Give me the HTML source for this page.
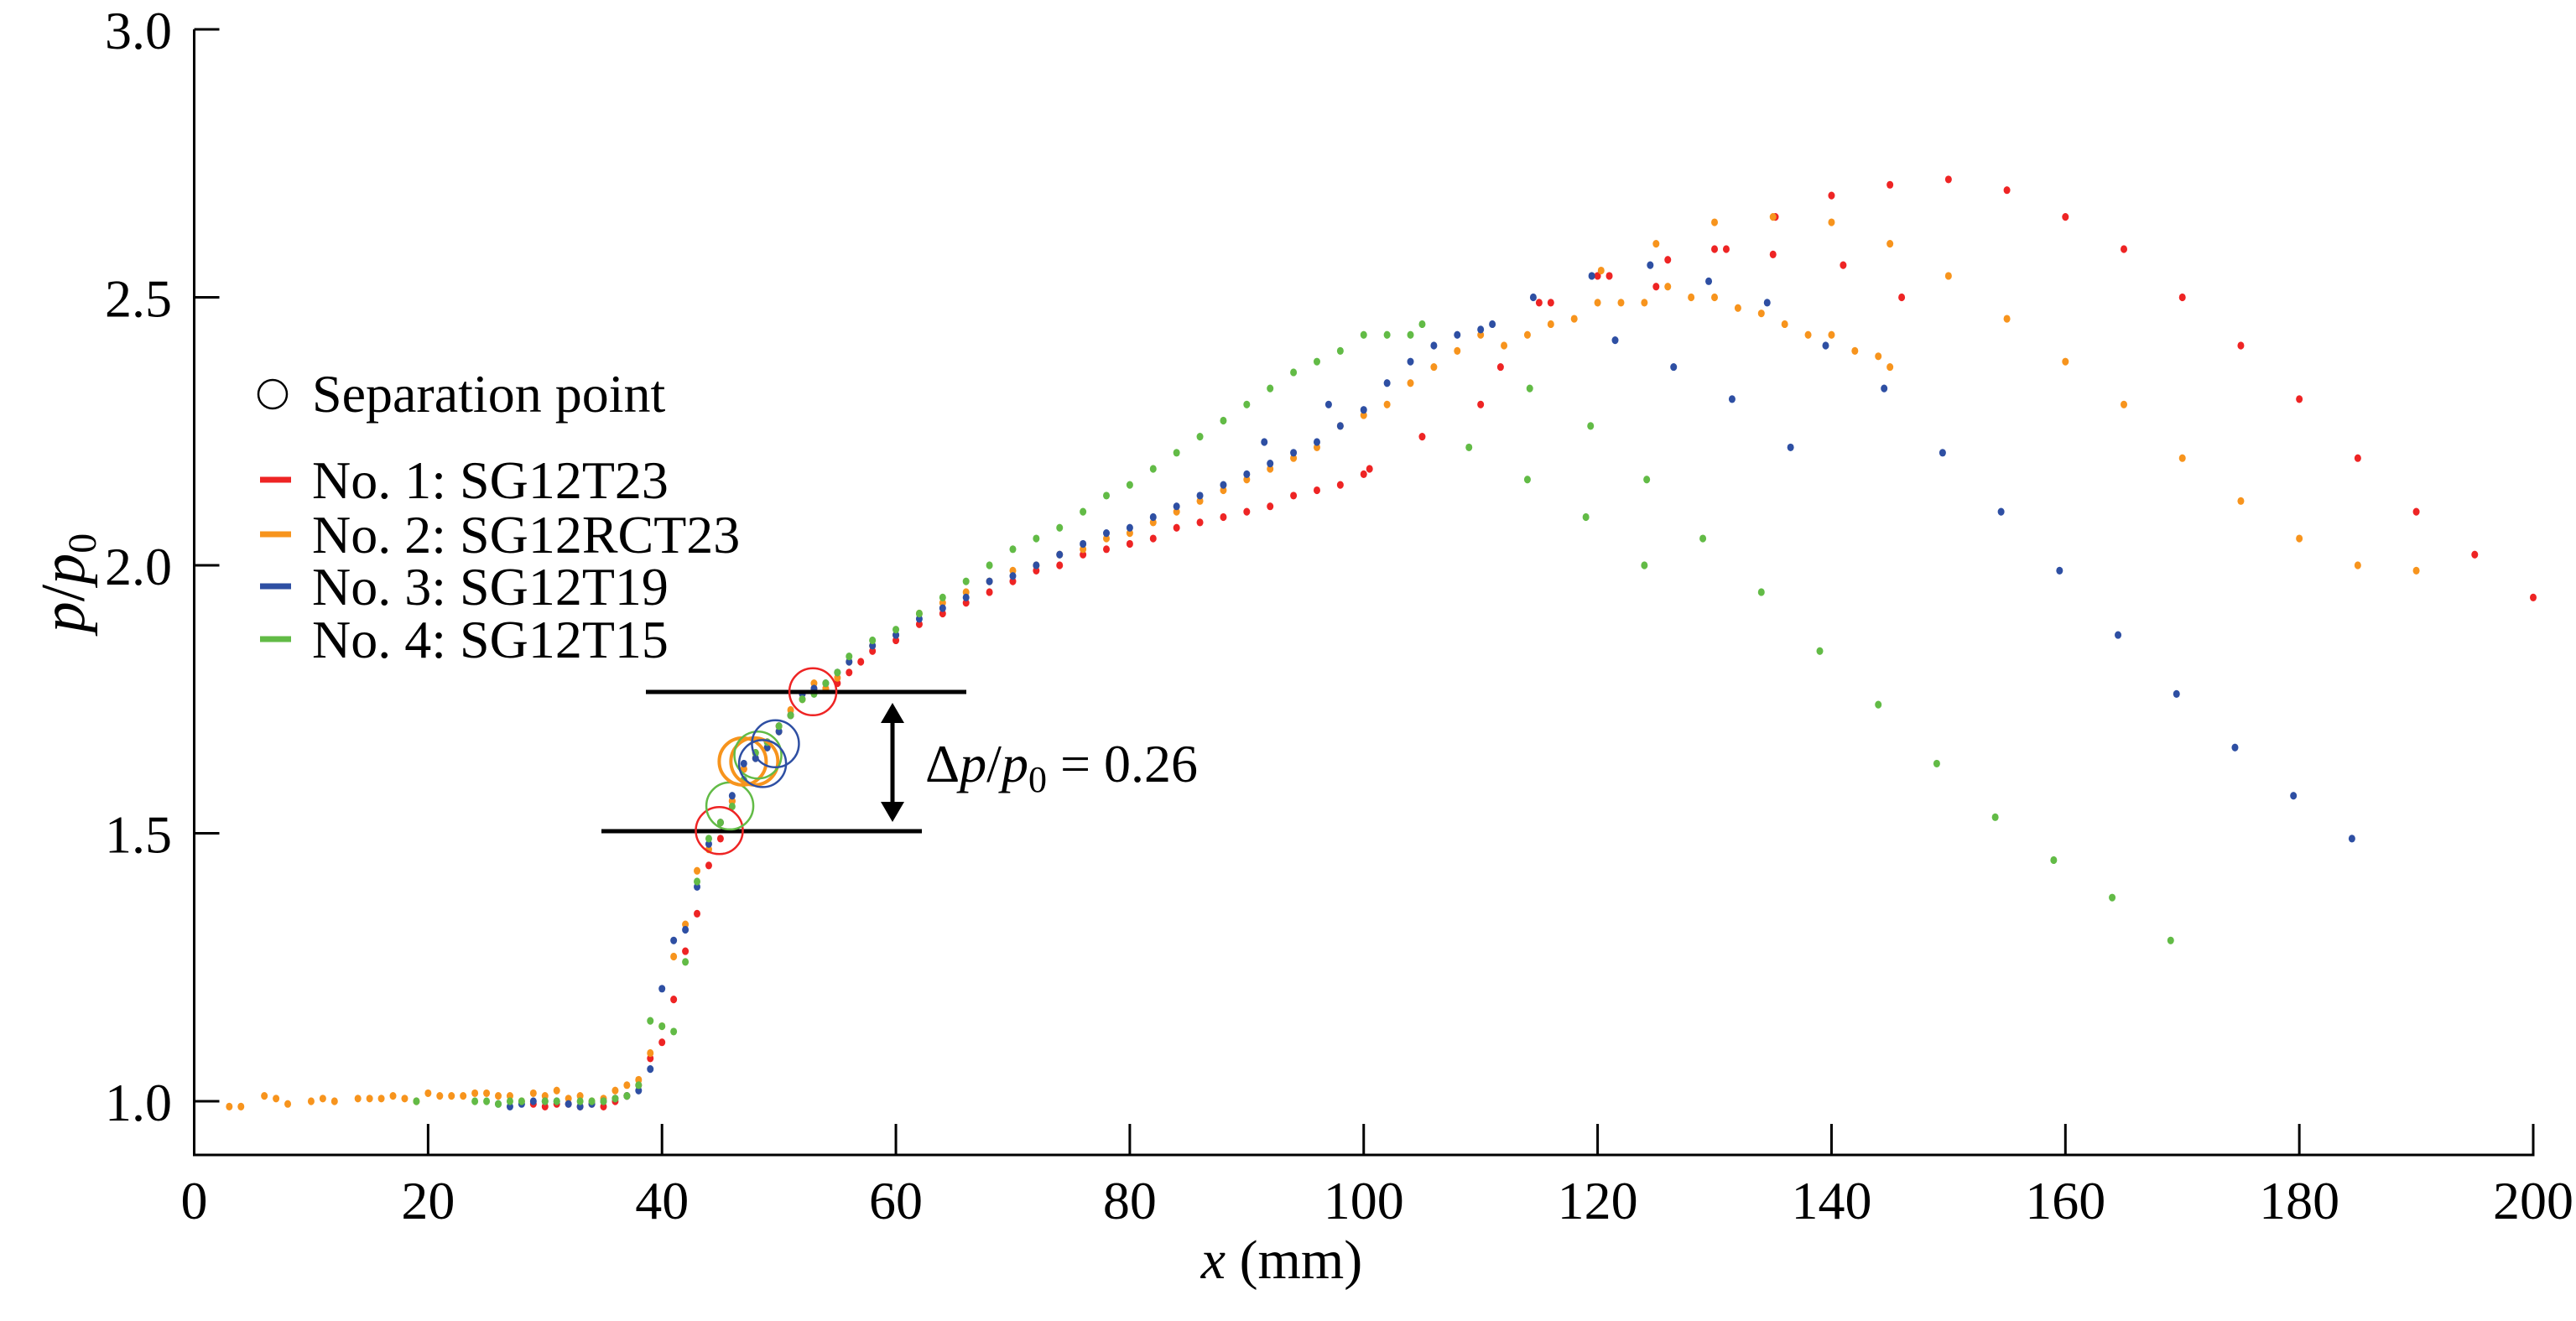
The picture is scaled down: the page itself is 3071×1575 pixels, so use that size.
<!DOCTYPE html>
<html><head><meta charset="utf-8"><style>
html,body{margin:0;padding:0;background:#fff;}
svg{display:block;}
svg text{font-family:"Liberation Serif","Times New Roman","Nimbus Roman","DejaVu Serif",serif;}
</style></head><body>
<svg id="chart" width="3071" height="1575" viewBox="0 0 3071 1575" xmlns="http://www.w3.org/2000/svg">
<g id="axes"></g>
<g id="marks"></g>
<g id="annot"></g>
<g id="legend"></g>
</svg>
<script>
const xTicks=[0,20,40,60,80,100,120,140,160,180,200];
const yTicks=[1.0,1.5,2.0,2.5,3.0];
const seriesNames=["No. 1: SG12T23","No. 2: SG12RCT23","No. 3: SG12T19","No. 4: SG12T15"];
const seriesColors=["#ee2424","#f7941d","#2e4fa3","#62bb46"];
const s1x=[29,30,31,32,33,34,35,36,37,38,39,40,41,42,43,44,45,46,47,48,49,50,51,52,53,54,55,56,57,58,60,62,64,66,68,70,72,74,76,78,80,82,84,86,88,90,92,94,96,98,100,100.5,105,110,111.7,115,116,120,121,125,126,130,131,135,135.2,140,141,145,146,150,155,160,165,170,175,180,185,190,195,200];
const s1y=[0.995,0.99,0.995,0.995,0.99,0.995,0.99,1.0,1.01,1.03,1.08,1.11,1.19,1.28,1.35,1.44,1.49,1.56,1.62,1.65,1.67,1.70,1.72,1.76,1.77,1.77,1.78,1.80,1.82,1.84,1.86,1.89,1.91,1.93,1.95,1.97,1.99,2.00,2.02,2.03,2.04,2.05,2.07,2.08,2.09,2.10,2.11,2.13,2.14,2.15,2.17,2.18,2.24,2.30,2.37,2.49,2.49,2.54,2.54,2.52,2.57,2.59,2.59,2.58,2.65,2.69,2.56,2.71,2.50,2.72,2.70,2.65,2.59,2.50,2.41,2.31,2.20,2.10,2.02,1.94];
const s2x=[3,4,6,7,8,10,11,12,14,15,16,17,18,19,20,21,22,23,24,25,26,27,28,29,30,31,32,33,34,35,36,37,38,39,40,41,42,43,44,45,46,47,48,49,50,51,52,53,54,55,56,58,60,62,64,66,68,70,72,74,76,78,80,82,84,86,88,90,92,94,96,98,100,102,104,106,108,110,112,114,116,118,120,122,124,126,128,130,132,134,136,138,140,142,144,145,120.3,125,130,135,140,145,150,155,160,165,170,175,180,185,190];
const s2y=[0.99,0.99,1.01,1.005,0.995,1.0,1.005,1.0,1.005,1.005,1.005,1.01,1.005,1.0,1.015,1.01,1.01,1.01,1.015,1.015,1.01,1.01,1.0,1.015,1.01,1.02,1.005,1.01,1.0,1.005,1.02,1.03,1.04,1.09,1.14,1.27,1.33,1.43,1.47,1.52,1.56,1.62,1.64,1.66,1.69,1.73,1.75,1.78,1.77,1.79,1.82,1.85,1.87,1.91,1.93,1.95,1.97,1.99,2.00,2.02,2.03,2.05,2.06,2.08,2.10,2.12,2.14,2.16,2.18,2.20,2.22,2.26,2.28,2.30,2.34,2.37,2.40,2.43,2.41,2.43,2.45,2.46,2.49,2.49,2.49,2.52,2.50,2.50,2.48,2.47,2.45,2.43,2.43,2.40,2.39,2.37,2.55,2.60,2.64,2.65,2.64,2.60,2.54,2.46,2.38,2.30,2.20,2.12,2.05,2.00,1.99];
const s3x=[26,27,28,29,30,31,32,33,34,35,36,37,38,39,40,41,42,43,44,45,46,47,48,49,50,51,52,53,54,55,56,58,60,62,64,66,68,70,72,74,76,78,80,82,84,86,88,90,91.5,92,94,96,97,98,100,102,104,106,108,110,111,114.5,119.5,121.5,124.5,126.5,129.5,131.5,134.5,136.5,139.5,144.5,149.5,154.5,159.5,164.5,169.5,174.5,179.5,184.5];
const s3y=[0.995,0.99,0.995,1.0,1.0,1.0,0.995,0.99,0.995,1.0,1.005,1.01,1.02,1.06,1.21,1.30,1.32,1.40,1.48,1.52,1.57,1.63,1.64,1.66,1.69,1.72,1.76,1.77,1.78,1.80,1.82,1.85,1.87,1.90,1.92,1.94,1.97,1.98,2.00,2.02,2.04,2.06,2.07,2.09,2.11,2.13,2.15,2.17,2.23,2.19,2.21,2.23,2.30,2.26,2.29,2.34,2.38,2.41,2.43,2.44,2.45,2.50,2.54,2.42,2.56,2.37,2.53,2.31,2.49,2.22,2.41,2.33,2.21,2.10,1.99,1.87,1.76,1.66,1.57,1.49];
const s4x=[19,24,25,26,27,28,30,31,33,34,35,36,37,38,39,40,41,42,43,44,45,46,47,48,49,50,51,52,53,54,55,56,58,60,62,64,66,68,70,72,74,76,78,80,82,84,86,88,90,92,94,96,98,100,102,104,105,109,114,114.2,119,119.4,124,124.2,129,134,139,144,149,154,159,164,169];
const s4y=[1.0,1.0,1.0,0.995,1.0,1.0,1.0,1.0,1.0,1.0,1.0,1.005,1.01,1.03,1.15,1.14,1.13,1.26,1.41,1.49,1.52,1.55,1.60,1.65,1.67,1.70,1.72,1.75,1.76,1.78,1.80,1.83,1.86,1.88,1.91,1.94,1.97,2.00,2.03,2.05,2.07,2.10,2.13,2.15,2.18,2.21,2.24,2.27,2.30,2.33,2.36,2.38,2.40,2.43,2.43,2.43,2.45,2.22,2.16,2.33,2.09,2.26,2.00,2.16,2.05,1.95,1.84,1.74,1.63,1.53,1.45,1.38,1.30];
const sepX=[44.9,45.8,46.9,47.9,48.2,48.6,49.7,52.9];
const sepY=[1.505,1.551,1.634,1.634,1.646,1.63,1.667,1.764];
const sepSeries=[0,3,1,1,3,2,2,0];

const NS="http://www.w3.org/2000/svg";
const X0=231.5,X1=3020,Y0=1313,YU=639,YB=1377,YT=35;
function sx(v){return X0+v*(X1-X0)/200;}
function sy(v){return Y0-(v-1)*YU;}
function mk(tag,attrs,parent){const e=document.createElementNS(NS,tag);for(const k in attrs)e.setAttribute(k,attrs[k]);parent.appendChild(e);return e;}
const axes=document.getElementById('axes'),marks=document.getElementById('marks'),annot=document.getElementById('annot'),legend=document.getElementById('legend');

let a=mk('line',{x1:X0,y1:YT,x2:X0,y2:YB+1.5,stroke:'#000','stroke-width':3},axes);

a=mk('line',{x1:X0-1.5,y1:YB,x2:X1+1.5,y2:YB,stroke:'#000','stroke-width':3},axes);

xTicks.forEach(v=>{
  const t=mk('line',{x1:sx(v),y1:YB,x2:sx(v),y2:YB-37,stroke:'#000','stroke-width':3},axes);
  
  
  const l=mk('text',{x:sx(v),y:1453,'font-size':64,'text-anchor':'middle'},axes);
  l.textContent=String(v);
  
  
});
yTicks.forEach(v=>{
  const t=mk('line',{x1:X0,y1:sy(v),x2:X0+30,y2:sy(v),stroke:'#000','stroke-width':3},axes);
  
  
  const l=mk('text',{x:205,y:sy(v)+23,'font-size':64,'text-anchor':'end'},axes);
  l.textContent=v.toFixed(1);
  
  
});
let xl=mk('text',{x:1528,y:1524,'font-size':66,'text-anchor':'middle'},axes);
xl.innerHTML='<tspan font-style="italic">x</tspan> (mm)';

let yl=mk('text',{x:0,y:0,'font-size':74,'text-anchor':'middle',transform:'translate(100,695) rotate(-90)'},axes);
yl.innerHTML='<tspan font-style="italic">p</tspan>/<tspan font-style="italic">p</tspan><tspan font-size="48" dy="14">0</tspan>';


const SX=[s1x,s2x,s3x,s4x],SY=[s1y,s2y,s3y,s4y];
for(let s=0;s<4;s++){
  const g=mk('g',{fill:seriesColors[s]},marks);
  
  
  for(let i=0;i<SX[s].length;i++){
    const d=mk('ellipse',{cx:sx(SX[s][i]),cy:sy(SY[s][i]),rx:4,ry:4.6},g);
    
    
  }
}
let h=mk('line',{x1:770,y1:825,x2:1152,y2:825,stroke:'#000','stroke-width':5},annot);

h=mk('line',{x1:717,y1:991,x2:1099,y2:991,stroke:'#000','stroke-width':5},annot);

h=mk('line',{x1:1064,y1:860,x2:1064,y2:958,stroke:'#000','stroke-width':5},annot);

h=mk('polygon',{points:'1050,862 1078,862 1064,838','fill':'#000'},annot);

h=mk('polygon',{points:'1050,956 1078,956 1064,980','fill':'#000'},annot);

let dt=mk('text',{x:1103,y:932,'font-size':64},annot);
dt.innerHTML='Δ<tspan font-style="italic">p</tspan>/<tspan font-style="italic">p</tspan><tspan font-size="44" dy="12">0</tspan><tspan dy="-12"> = 0.26</tspan>';

for(let i=0;i<sepX.length;i++){
  const c=mk('circle',{cx:sx(sepX[i]),cy:sy(sepY[i]),r:28,fill:'none',stroke:seriesColors[sepSeries[i]],'stroke-width':sepSeries[i]==1?4:2.5},annot);
  
  
}
let lc=mk('circle',{cx:325,cy:470,r:17,fill:'none',stroke:'#000','stroke-width':2.5},legend);

let lt=mk('text',{x:372,y:491,'font-size':64},legend);
lt.textContent='Separation point';

const ly=[572,637,699,762];
for(let s=0;s<4;s++){
  const ln=mk('line',{x1:310,y1:ly[s],x2:347,y2:ly[s],stroke:seriesColors[s],'stroke-width':7},legend);
  
  
  const tx=mk('text',{x:372,y:ly[s]+22,'font-size':64},legend);
  tx.textContent=seriesNames[s];
  
  
}
</script>
</body></html>
